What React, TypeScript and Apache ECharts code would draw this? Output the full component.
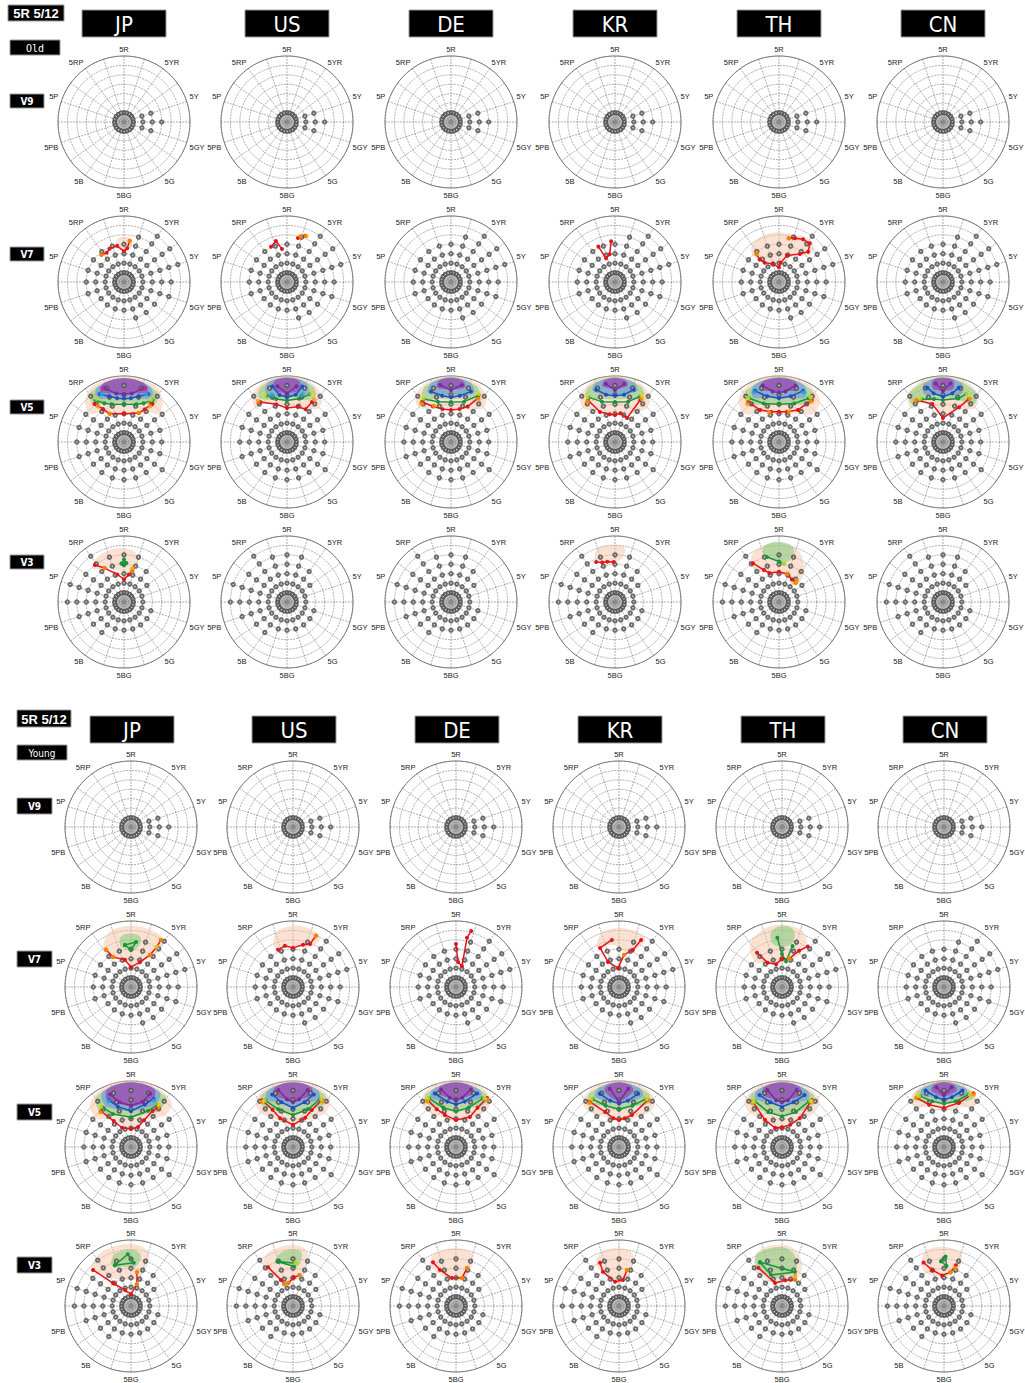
import React, { useEffect, useRef } from "react";
import * as echarts from "echarts";

// ---------- axis / labels ----------
const HUE_LABELS = ["5R", "5YR", "5Y", "5GY", "5G", "5BG", "5B", "5PB", "5P", "5RP"];
const COUNTRIES_OLD = ["JP", "US", "DE", "KR", "TH", "CN"];
const COUNTRIES_YOUNG = ["JP", "US", "DE", "KR", "TH", "CN"];
const VALUE_ROWS = ["V9", "V7", "V5", "V3"];
const TITLE = "5R 5/12";
const GROUPS = ["Old", "Young"];

// spoke hues (hue index, 5R = 0, 10 per Munsell hue family, clockwise)
const SPOKES = [0, 5, 10, 15, 20, 25, 30, 35, 40, 45, 50, 55, 60, 65, 70, 75, 80, 85, 90, 95];
// highest sample chroma on each spoke, per value level
const V9_MAX = [2, 2, 2, 2, 6, 8, 6, 2, 2, 2, 2, 2, 2, 2, 2, 2, 2, 2, 2, 2];
const V7_MAX = [8, 10, 12, 12, 12, 10, 10, 8, 8, 8, 6, 6, 6, 6, 8, 8, 8, 8, 8, 8];
const V5_MAX = [12, 12, 12, 10, 8, 8, 8, 10, 8, 8, 8, 8, 8, 8, 10, 10, 10, 10, 12, 12];
const V3_MAX = [10, 10, 8, 6, 4, 4, 6, 6, 6, 6, 6, 6, 8, 8, 10, 12, 12, 10, 12, 10];

// ---------- overlay data: [hue, chroma] ----------
const EMPTY = { blobs: [], lines: [], dots: [] };

const OLD_V7_JP = {
  blobs: [["peach", [[-3.5, 7.4], [-2.5, 9.2], [0, 9.6], [2.5, 9.2], [3.5, 7.6], [0, 6.9]]]],
  lines: [["red", [[-11, 7.5], [-8.5, 7.2], [-6.5, 7.7], [-3, 7.8], [0, 6.5], [1.5, 7.2], [2.2, 8.8]]]],
  dots: [["orange", [[-11, 7.5], [2.2, 8.8]]]],
};
const OLD_V7_US = {
  blobs: [],
  lines: [["red", [[-6.8, 8.2], [-4.2, 9], [-2.4, 7.1]]], ["red", [[3.9, 9.6], [5.9, 10.5]]]],
  dots: [["orange", [[4.6, 10.1], [6.3, 10.6]]]],
};
const OLD_V7_KR = {
  blobs: [],
  lines: [["red", [[-7, 8.3], [-5.7, 5.4], [-3, 6], [-1.5, 8.7]]]],
  dots: [],
};
const OLD_V7_TH = {
  blobs: [["peach", [[-12, 8.5], [-9, 10], [-4, 10.5], [0, 10.5], [4, 10.5], [8, 11], [11, 11], [13, 10], [13, 8], [10, 7.2], [5, 5.5], [0, 4], [-5, 4.5], [-11, 5.5]]]],
  lines: [["red", [[-10.8, 7.6], [-11.3, 6.3], [-10.2, 5.1], [-5.4, 4.1], [0, 3.1], [1.3, 4.1], [4.7, 5.9], [10.2, 7.4], [12.2, 8.9], [10.7, 10.5], [8.2, 10.4], [5.6, 9.9], [3.5, 9.5]]]],
  dots: [["orange", [[-10.8, 7.6], [3.5, 9.5]]]],
};

const OLD_V5_JP = {
  blobs: [
    ["peach", [[-14, 9.5], [-12, 12], [-8, 13.6], [0, 14], [8, 13.6], [12, 12], [14, 9.5], [11, 8.2], [7, 6.6], [0, 6], [-7, 6.6], [-11, 8.2]]],
    ["green", [[-11, 10.5], [-9, 12.8], [0, 13.6], [9, 12.8], [11, 10.5], [7, 9], [0, 8.5], [-7, 9]]],
    ["blue", [[-9, 11], [-7, 13], [0, 13.5], [7, 13], [9, 11], [5, 9.8], [0, 9.4], [-5, 9.8]]],
    ["purple", [[-7, 11.8], [-5, 13.2], [0, 13.5], [5, 13.2], [7, 11.8], [4, 10.6], [0, 10.2], [-4, 10.6]]],
  ],
  lines: [
    ["red", [[-10.5, 10.2], [-9, 8.3], [-7.5, 6.7], [0, 6], [7.5, 6.9], [9, 8.2], [10, 10.1]]],
    ["green", [[-9.5, 10.8], [-7.5, 9.2], [-5, 8.4], [0, 8], [5, 8.4], [7.5, 9.2], [9.5, 10.8]]],
    ["blue", [[-7.5, 11.4], [-5, 10.2], [-2.5, 9.4], [0, 9.2], [2.5, 9.4], [5, 10.2], [7.5, 11.4]]],
    ["purple", [[-5.5, 12.2], [-2.5, 10.4], [0, 10.2], [2.5, 10.4], [5.5, 12.2]]],
  ],
  dots: [
    ["orange", [[-10, 9.4], [-7.5, 6.7], [7.5, 6.9], [10, 9.4]]],
    ["yellow", [[-9, 10.9], [9, 10.7]]],
    ["cyan", [[-7, 11.2], [7, 11.2]]],
    ["magenta", [[-6, 12.3], [6, 12.3]]],
  ],
};
const OLD_V5_US = {
  blobs: [
    ["peach", [[-12, 9.5], [-10, 12.5], [-5, 13.8], [0, 14], [5, 13.8], [10, 12.5], [12, 9.8], [9, 8.5], [4, 7.8], [0, 7.4], [-4, 8.2], [-9, 9.5]]],
    ["green", [[-9, 11], [-7, 13], [0, 13.8], [7, 13], [9, 11], [5, 9.5], [0, 9], [-5, 9.5]]],
    ["blue", [[-6.5, 11.2], [-5, 13.2], [0, 13.7], [5, 13.2], [6.5, 11.2], [3, 9.9], [0, 9.7], [-3, 9.9]]],
    ["purple", [[-4, 11.5], [-3, 13.3], [0, 13.6], [3, 13.3], [4, 11.5], [1.5, 10.5], [0, 10.3], [-1.5, 10.5]]],
  ],
  lines: [
    ["red", [[-9.4, 10.2], [-4.4, 8.3], [0, 7.2], [4.6, 7.8], [8.2, 8], [8.9, 10]]],
    ["green", [[-6.6, 10.8], [-3.9, 9.4], [0, 8.8], [4.3, 9.5], [7.2, 11.3]]],
    ["blue", [[-4.1, 12.2], [-2.5, 10.1], [0, 9.5], [2.9, 10.2], [4.3, 12.2]]],
    ["purple", [[-2.7, 12], [0, 10.3], [2.7, 12]]],
  ],
  dots: [
    ["orange", [[-9.8, 10.6], [9.1, 10.7]]],
    ["yellow", [[-7, 11], [7.5, 11.5]]],
    ["cyan", [[-5, 10.5], [5, 10.6]]],
  ],
};
const OLD_V5_DE = {
  blobs: [
    ["peach", [[-12, 10], [-10, 12.6], [-5, 13.8], [0, 14], [5, 13.8], [10, 12.6], [12, 10], [9, 8.3], [0, 7], [-9, 8.5]]],
    ["green", [[-9, 11], [-7, 13], [0, 13.8], [7, 13], [9, 11], [4, 9.5], [0, 9], [-4, 9.5]]],
    ["blue", [[-7, 11.5], [-5, 13.2], [0, 13.7], [5, 13.2], [7, 11.5], [3, 10.2], [0, 10], [-3, 10.2]]],
    ["purple", [[-4, 12], [-3, 13.3], [0, 13.6], [3, 13.3], [4, 12], [0, 11.2]]],
  ],
  lines: [
    ["red", [[-10, 10.5], [-7.5, 8.5], [-4, 7.2], [0, 6.8], [4, 7.2], [7, 8.3], [8.8, 11]]],
    ["green", [[-9, 10.8], [-5, 9], [0, 8.5], [5, 9], [8.5, 11.5]]],
    ["blue", [[-6, 11.5], [-3, 10], [0, 9.5], [3, 10], [6, 11.5]]],
    ["purple", [[-3, 12.3], [0, 11], [3, 12.3]]],
  ],
  dots: [
    ["orange", [[-10.5, 10.3], [-7, 8.5], [9, 10.8]]],
    ["yellow", [[-9, 11], [8.3, 11.8]]],
  ],
};
const OLD_V5_KR = {
  blobs: [
    ["peach", [[-12, 10], [-10, 12.5], [-5, 13.8], [0, 14], [5, 13.8], [10, 12.5], [12, 10], [8.5, 7], [4, 6], [0, 5.5], [-4, 6], [-8.5, 7.5]]],
    ["green", [[-9, 11.2], [-7, 13], [0, 13.8], [7, 13], [9, 11.2], [4, 9.4], [0, 9], [-4, 9.4]]],
    ["blue", [[-6.5, 11.8], [-5, 13.2], [0, 13.7], [5, 13.2], [6.5, 11.8], [3, 10.4], [0, 10.2], [-3, 10.4]]],
    ["purple", [[-3.5, 12.2], [-2.5, 13.3], [0, 13.6], [2.5, 13.3], [3.5, 12.2], [0, 11.3]]],
  ],
  lines: [
    ["red", [[-9.1, 10.6], [-7.4, 7.1], [-3, 6], [0, 5.7], [3, 6.2], [7.4, 5.7], [8.6, 10.4]]],
    ["green", [[-8.5, 11], [-5, 9], [0, 8.5], [5, 9], [8, 11]]],
    ["blue", [[-5.5, 11.8], [-3, 10.2], [0, 9.8], [3, 10.2], [5.5, 11.8]]],
    ["purple", [[-2.5, 12.5], [0, 11], [2.5, 12.5]]],
  ],
  dots: [
    ["orange", [[-9.5, 10.4], [8.8, 10.8]]],
    ["yellow", [[-8.8, 11.2], [8.2, 11.4]]],
  ],
};
const OLD_V5_TH = {
  blobs: [
    ["peach", [[-14, 9.5], [-12, 12.6], [-6, 14], [0, 14.2], [6, 14], [12, 12.6], [14, 9.5], [10, 7.5], [0, 6], [-10, 7.5]]],
    ["green", [[-11, 10.5], [-9, 13], [0, 13.8], [9, 13], [11, 10.5], [6, 8.6], [0, 8.2], [-6, 8.6]]],
    ["blue", [[-8.5, 11], [-6.5, 13.2], [0, 13.7], [6.5, 13.2], [8.5, 11], [4, 9.8], [0, 9.5], [-4, 9.8]]],
    ["purple", [[-5.5, 11.8], [-4, 13.3], [0, 13.6], [4, 13.3], [5.5, 11.8], [2, 10.9], [0, 10.7], [-2, 10.9]]],
  ],
  lines: [
    ["red", [[-10.5, 10.7], [-8.5, 7.9], [-4, 6.6], [0, 6.4], [4, 6.6], [8.5, 7.9], [10.6, 11.3]]],
    ["green", [[-9.5, 11.2], [-6, 8.8], [0, 8], [6, 8.8], [9.5, 11.2]]],
    ["blue", [[-7, 12], [-4, 10], [0, 9.3], [4, 10], [7, 12]]],
    ["purple", [[-4.5, 12.5], [-2, 10.8], [0, 10.5], [2, 10.8], [4.5, 12.5]]],
  ],
  dots: [
    ["orange", [[-11, 10.5], [-5, 6.6], [5, 6.8], [10.8, 11]]],
    ["yellow", [[-9.8, 11.4], [9.8, 11.6]]],
    ["cyan", [[-7.4, 11.8], [7.4, 11.8]]],
  ],
};
const OLD_V5_CN = {
  blobs: [
    ["peach", [[-12, 9.8], [-10, 12.6], [-5, 13.8], [0, 14], [5, 13.8], [10, 12.6], [12, 9.8], [8, 8], [3, 6], [0, 5], [-3, 7], [-8, 9.5]]],
    ["green", [[-11, 10.5], [-9, 12.8], [0, 13.8], [9, 12.8], [11, 10.5], [6, 9.5], [0, 9.3], [-6, 9.5]]],
    ["blue", [[-6, 11], [-5, 13], [0, 13.7], [5, 13], [6, 11], [3, 10.2], [0, 10], [-3, 10.2]]],
    ["purple", [[-3, 11.5], [-2.5, 13.3], [0, 13.6], [2.5, 13.3], [3, 11.5], [1, 10.9], [0, 10.8], [-1, 10.9]]],
  ],
  lines: [
    ["red", [[-8.8, 10.4], [-4.4, 8.4], [0, 5.1], [6.9, 8.1], [8.6, 10.6]]],
    ["green", [[-7.5, 10.2], [-3.3, 9.3], [0, 8.9], [5.4, 9.8], [7.2, 11.3]]],
    ["blue", [[-4.5, 12], [-3, 10.5], [0, 9.6], [3, 10.5], [4.5, 12]]],
    ["purple", [[-2, 12.5], [0, 10.8], [2, 12.5]]],
  ],
  dots: [
    ["orange", [[-9.2, 10.6], [8.8, 10.8]]],
    ["yellow", [[-7.8, 10.4], [7.4, 11.4]]],
  ],
};

const OLD_V3_JP = {
  blobs: [["peach", [[-12, 9.5], [-9, 11], [-3, 11.5], [2, 11.2], [5, 9.8], [5, 7], [2, 6], [-3, 6.8], [-8, 8.5]]]],
  lines: [
    ["red", [[-10.6, 10], [-8.3, 8.3], [-3.7, 6], [0, 4.8], [2.8, 5.9], [4.1, 6.8]]],
    ["green", [[-1, 8.2], [0, 9], [1, 8.3], [0, 7.8], [-1, 8.2]]],
  ],
  dots: [["orange", [[-8.3, 8.3], [4.1, 6.8], [4, 7.4]]]],
};
const OLD_V3_KR = {
  blobs: [["peach", [[-7, 9.8], [-5, 12], [0, 12.2], [3, 11.5], [2, 9], [-3, 8.6]]]],
  lines: [["red", [[-7, 9.4], [-5, 8.8], [-3, 8.7], [-0.5, 8.5]]]],
  dots: [],
};
const OLD_V3_TH = {
  blobs: [
    ["peach", [[-10, 10.5], [-6, 12.2], [0, 12.5], [6, 11.5], [11, 8.5], [13, 5.6], [10, 4.5], [5, 5.6], [0, 6], [-6, 6.4], [-10, 8.5]]],
    ["green", [[-5, 10.5], [-4, 12.3], [0, 12.8], [4, 12], [4.5, 9.5], [1, 8.4], [-3, 9.5]]],
  ],
  lines: [
    ["red", [[-9.4, 9.9], [-7, 7.5], [-5.1, 6.5], [0, 6.4], [4.5, 6.2], [8.3, 5.5], [11.4, 5.4]]],
    ["green", [[-4.2, 9.9], [0, 8.6], [2, 8.2]]],
  ],
  dots: [["orange", [[4.5, 6.2], [11.4, 5.4], [11, 5.9]]], ["yellow", [[2, 8.2]]]],
};

const YOUNG_V7_JP = {
  blobs: [
    ["peach", [[-10, 10], [-6, 12.5], [0, 13], [6, 12.8], [10, 12], [10, 8], [5, 5.5], [0, 4.5], [-5, 6], [-9, 8]]],
    ["green", [[-4, 9], [-3, 11], [0, 11.3], [3, 10.8], [3, 8.8], [0, 7.8]]],
  ],
  lines: [
    ["red", [[-9.4, 9.5], [-8.6, 7.4], [-3.5, 5.9], [0, 4.2], [5.5, 5.6], [8.5, 7.9], [9.1, 10.1], [9, 11.8]]],
    ["green", [[-2.3, 9], [1.8, 9.6], [0, 7.9], [-2.3, 9]]],
  ],
  dots: [["orange", [[-9.4, 9.5], [-8.6, 7.4], [8.5, 7.9], [9, 11.8]]], ["yellow", [[9.1, 10.1]]]],
};
const YOUNG_V7_US = {
  blobs: [["peach", [[-7, 9], [-5, 12], [0, 13], [5, 12.8], [8, 12], [7, 9.5], [3, 8.8], [0, 8.3], [-4, 8.5]]]],
  lines: [["red", [[-6.1, 8.5], [-3.1, 8.9], [0, 8.3], [3.7, 9.2], [6, 9.8], [6.7, 11.9]]]],
  dots: [["orange", [[6.7, 11.9]]]],
};
const YOUNG_V7_DE = {
  blobs: [],
  lines: [["red", [[0, 9.1], [1.3, 5.3], [4.4, 4.6], [3.5, 10.7], [4.2, 12.3]]]],
  dots: [],
};
const YOUNG_V7_KR = {
  blobs: [["peach", [[-8, 9.5], [-5, 12], [0, 12.5], [5, 12.3], [8, 11.5], [7, 9], [3, 7.5], [-2, 9]]]],
  lines: [["red", [[-2.4, 10.1], [-7.2, 9.2], [-6.6, 5.8], [-0.8, 4], [2.5, 6.9], [5.7, 8.4], [7, 11]]]],
  dots: [["orange", [[2.5, 6.9]]]],
};
const YOUNG_V7_TH = {
  blobs: [
    ["peach", [[-13, 8], [-10, 11.5], [-4, 13], [0, 13.2], [5, 12.8], [8, 11], [8, 8], [4, 5.5], [0, 5], [-6, 5.5], [-11, 6.5]]],
    ["green", [[-3.5, 9.5], [-3, 12], [0, 13], [3, 12.5], [4, 10], [1, 8.5]]],
  ],
  lines: [
    ["red", [[-10, 9], [-8.5, 6], [-4, 5], [0, 6], [4, 6.2], [7, 8.5], [9, 10.2]]],
    ["green", [[-1.5, 10.5], [0, 7], [2.5, 5.5], [4, 9]]],
  ],
  dots: [["orange", [[4, 6.2]]]],
};

const YOUNG_V5_JP = {
  blobs: [
    ["peach", [[-14, 9.5], [-12, 12.7], [-6, 14], [0, 14.2], [6, 14], [12, 12.7], [13, 9.8], [9, 7], [4, 4.5], [0, 4], [-5, 4.8], [-10, 7.5]]],
    ["green", [[-11.5, 10], [-9.5, 13], [0, 13.8], [9.5, 13], [10.5, 10], [7, 7.8], [0, 6.3], [-7.5, 7.6]]],
    ["blue", [[-9, 10.5], [-7.5, 13.2], [0, 13.8], [7.5, 13.2], [8.5, 10.5], [5, 8.6], [0, 7.6], [-5, 8.4]]],
    ["purple", [[-7.5, 11.2], [-6, 13.3], [0, 13.7], [6, 13.3], [7, 11.2], [4, 9.4], [0, 8.6], [-4, 9.4]]],
  ],
  lines: [
    ["red", [[-11.1, 9.9], [-9.3, 6.6], [-6.9, 4.5], [0, 3.8], [5.4, 4.5], [7.2, 6.3], [8.6, 8.9], [9.4, 10.1]]],
    ["green", [[-10, 10.5], [-8, 8], [0, 6.3], [7, 8.5], [9, 10.6]]],
    ["blue", [[-7, 11], [-5, 9], [0, 7.6], [5, 9.5], [7, 11.3]]],
    ["purple", [[-6, 12], [-4, 9.8], [0, 8.8], [4, 9.9], [5.5, 12]]],
  ],
  dots: [
    ["orange", [[-11.5, 9.8], [9.6, 10.4]]],
    ["yellow", [[-10.2, 10.7], [9.2, 10.8]]],
    ["cyan", [[-7.3, 10.8], [7.3, 11]]],
  ],
};
const YOUNG_V5_US = {
  blobs: [
    ["peach", [[-12, 10], [-10.5, 12.8], [-5, 14], [0, 14.2], [5, 14], [10.5, 12.8], [12, 10], [8, 6.5], [0, 4.5], [-8, 6.5]]],
    ["green", [[-10, 11], [-8.5, 13], [0, 13.8], [8.5, 13], [10, 11], [6, 8.4], [0, 6.8], [-6, 8.4]]],
    ["blue", [[-8, 11.5], [-6.5, 13.2], [0, 13.8], [6.5, 13.2], [8, 11.5], [4, 9.6], [0, 8.3], [-4, 9.6]]],
    ["purple", [[-5.5, 11.8], [-4.5, 13.3], [0, 13.7], [4.5, 13.3], [5.5, 11.8], [2, 10], [0, 9.5], [-2, 10]]],
  ],
  lines: [
    ["red", [[-9.3, 11.9], [-8, 9], [-6.7, 6.7], [0, 4.7], [6.3, 6.7], [7.5, 8.8], [8.8, 11.7]]],
    ["green", [[-8.5, 11.5], [-6, 8.6], [0, 6.8], [6, 8.6], [8.2, 11.6]]],
    ["blue", [[-6, 12], [-4, 9.8], [0, 8.3], [4, 9.8], [6, 12]]],
    ["purple", [[-4, 12.5], [-2, 10.2], [0, 9.5], [2, 10.2], [4, 12.5]]],
  ],
  dots: [["orange", [[-9.5, 11.6], [9.2, 11.5]]], ["yellow", [[-8.8, 11.6], [8.5, 11.8]]]],
};
const YOUNG_V5_DE = {
  blobs: [
    ["peach", [[-11, 10.5], [-9.5, 12.8], [-5, 14], [0, 14.2], [5, 14], [9.5, 12.8], [11, 10.5], [8, 7], [0, 5.5], [-7, 7]]],
    ["green", [[-9.5, 11.2], [-8, 13], [0, 13.8], [8, 13], [9.5, 11.2], [5, 8.6], [0, 7.5], [-5, 8.6]]],
    ["blue", [[-7.5, 11.8], [-6, 13.2], [0, 13.8], [6, 13.2], [7.5, 11.8], [3, 9.6], [0, 9], [-3, 9.6]]],
    ["purple", [[-5, 12], [-4, 13.3], [0, 13.7], [4, 13.3], [5, 12], [2, 10.4], [0, 10], [-2, 10.4]]],
  ],
  lines: [
    ["red", [[-8.6, 11.6], [-7.5, 9], [-5.3, 7.2], [0, 5.7], [6.9, 7], [8, 9.5], [9, 12.3]]],
    ["green", [[-8, 11.8], [-5, 8.8], [0, 7.5], [5, 8.8], [8, 11.8]]],
    ["blue", [[-6, 12.2], [-3, 9.8], [0, 9], [3, 9.8], [6, 12.2]]],
    ["purple", [[-4, 12.6], [-2, 10.5], [0, 10], [2, 10.5], [4, 12.6]]],
  ],
  dots: [["orange", [[-9, 11.4], [9.3, 12]]], ["yellow", [[-8.3, 11.9], [8.4, 12]]]],
};
const YOUNG_V5_KR = {
  blobs: [
    ["peach", [[-11.5, 10.5], [-10, 12.8], [-5, 14], [0, 14.2], [5, 14], [10, 12.8], [11.5, 10.5], [8, 7], [0, 5.5], [-8, 7.5]]],
    ["green", [[-9.5, 11.2], [-8, 13], [0, 13.8], [8, 13], [9.5, 11.2], [5, 9], [0, 8], [-5, 9]]],
    ["blue", [[-7, 11.8], [-5.5, 13.2], [0, 13.8], [5.5, 13.2], [7, 11.8], [3, 9.8], [0, 9.2], [-3, 9.8]]],
    ["purple", [[-4, 12.2], [-3, 13.3], [0, 13.7], [3, 13.3], [4, 12.2], [0, 9.8]]],
  ],
  lines: [
    ["red", [[-9.1, 11.4], [-6, 8], [-3, 6.2], [0, 5.7], [3, 6.2], [6.1, 7.3], [8.8, 11.7]]],
    ["green", [[-8, 11.6], [-5, 9.2], [0, 8], [5, 9.2], [8, 11.6]]],
    ["blue", [[-5.5, 12], [-3, 10], [0, 9.2], [3, 10], [5.5, 12]]],
    ["purple", [[-2.5, 12.5], [0, 9.6], [2.5, 12.5]]],
  ],
  dots: [["orange", [[-9.4, 11.2], [9, 11.6]]], ["yellow", [[-8.3, 11.8], [8.2, 11.8]]]],
};
const YOUNG_V5_TH = {
  blobs: [
    ["peach", [[-12, 10.5], [-10.5, 12.8], [-5, 14], [0, 14.2], [5, 14], [10.5, 12.8], [12, 10.5], [9, 6.5], [5, 4.5], [0, 4], [-5, 4.2], [-9.5, 6.5]]],
    ["green", [[-10, 11], [-8.5, 13], [0, 13.8], [8.5, 13], [10, 11], [6, 7.8], [0, 6.5], [-6, 7.8]]],
    ["blue", [[-8, 11.6], [-6.5, 13.2], [0, 13.8], [6.5, 13.2], [8, 11.6], [4, 9.6], [0, 8.5], [-4, 9.6]]],
    ["purple", [[-5.5, 11.8], [-4.5, 13.3], [0, 13.7], [4.5, 13.3], [5.5, 11.8], [2, 10], [0, 9.5], [-2, 10]]],
  ],
  lines: [
    ["red", [[-9.1, 11.4], [-8.9, 6.8], [-5.6, 4.3], [0, 4.2], [5.6, 5], [8.8, 7.2], [9, 11.8]]],
    ["green", [[-8.5, 11.3], [-6, 8], [0, 6.5], [6, 8], [8.5, 11.3]]],
    ["blue", [[-6.5, 12], [-4, 9.8], [0, 8.5], [4, 9.8], [6.5, 12]]],
    ["purple", [[-4, 12.5], [-2, 10], [0, 9.5], [2, 10], [4, 12.5]]],
  ],
  dots: [["orange", [[-9.4, 11.2], [9.3, 11.6]]], ["yellow", [[-8.8, 11.4], [8.8, 11.5]]]],
};
const YOUNG_V5_CN = {
  blobs: [
    ["peach", [[-10, 11], [-8.5, 13], [-4, 14], [0, 14.2], [4, 14], [8.5, 13], [10, 11], [6, 9], [0, 7.8], [-6, 9]]],
    ["green", [[-8.5, 11.6], [-7, 13.2], [0, 13.9], [7, 13.2], [8.5, 11.8], [4, 9.7], [0, 9], [-4, 9.7]]],
    ["blue", [[-6.5, 12], [-5.5, 13.3], [0, 13.8], [5.5, 13.3], [6.5, 12], [2.5, 10.5], [0, 10], [-2.5, 10.5]]],
    ["purple", [[-3.5, 12.3], [-2.5, 13.4], [0, 13.7], [2.5, 13.4], [3.5, 12.3], [0, 10.8]]],
  ],
  lines: [
    ["red", [[-8, 11.9], [-5.4, 9.5], [0, 8.3], [5.2, 9.9], [8, 13]]],
    ["green", [[-7, 12], [-4, 10], [0, 9.2], [4, 10], [7, 12.3]]],
    ["blue", [[-5, 12.6], [-2.5, 10.7], [0, 10], [2.5, 10.7], [5, 12.6]]],
    ["purple", [[-2, 12.8], [0, 11], [2, 12.8]]],
  ],
  dots: [["orange", [[-8.3, 12], [8.2, 12.8]]], ["yellow", [[-7.3, 12.1], [7.3, 12.4]]]],
};

const YOUNG_V3_JP = {
  blobs: [
    ["peach", [[-13, 11.5], [-8, 13], [0, 13.2], [5, 12], [6, 9], [4, 6], [0, 5.5], [-6, 6], [-11, 8]]],
    ["green", [[-7, 9.5], [-5, 11.5], [0, 12], [3, 11], [2, 8.5], [-3, 8.5]]],
  ],
  lines: [
    ["red", [[-12.9, 11.1], [-10.6, 6.2], [-5.7, 3.6], [0, 2.5], [4.2, 4.8], [2.8, 7.3]]],
    ["green", [[-6, 9.3], [-1, 11], [1, 9.2], [-6, 9.3]]],
  ],
  dots: [["orange", [[2.8, 7.3], [4.2, 4.8]]]],
};
const YOUNG_V3_US = {
  blobs: [
    ["peach", [[-10, 10.5], [-7, 12.5], [0, 13], [4, 12], [5, 8.5], [3, 6], [-2, 5], [-7, 5.5]]],
    ["green", [[-6, 10], [-4, 11.5], [0, 12], [2.5, 11.5], [2, 8.5], [-3, 9]]],
  ],
  lines: [
    ["red", [[-9.1, 9.8], [-6.9, 6.1], [-6.1, 5], [-3.1, 5], [0.5, 6.1], [3.3, 6.7]]],
    ["green", [[-5.3, 10], [0.4, 8.4], [1, 9.1], [-5.3, 10]]],
  ],
  dots: [["orange", [[-6.1, 5], [-3.1, 5], [3.3, 6.7]]], ["yellow", [[1, 9.1]]]],
};
const YOUNG_V3_DE = {
  blobs: [["peach", [[-9, 10.5], [-6, 12], [0, 12.3], [5, 11.5], [6, 8], [3, 5.5], [-3, 5.5], [-8, 8]]]],
  lines: [["red", [[-7.7, 10.5], [-6.7, 8.4], [-2.3, 6], [3.4, 6.1], [4.5, 8.4]]]],
  dots: [["orange", [[3.4, 6.1], [4.5, 8.4]]]],
};
const YOUNG_V3_KR = {
  blobs: [["peach", [[-8, 10], [-5, 12], [0, 12.3], [4, 11.5], [5, 8], [2, 5], [-4, 5.5]]]],
  lines: [["red", [[-6.6, 10], [-7, 8], [-2.6, 5.2], [2.4, 5.6], [3.5, 7.8]]]],
  dots: [["orange", [[3.5, 7.8]]]],
};
const YOUNG_V3_TH = {
  blobs: [
    ["peach", [[-10, 10], [-6, 12.8], [2, 12.8], [7, 10], [8, 6.5], [2, 5], [-6, 5], [-9, 7.5]]],
    ["green", [[-9, 10], [-7, 12.3], [0, 12.5], [4, 11], [6, 8], [2, 6.5], [-5, 6.5]]],
  ],
  lines: [
    ["red", [[-8.8, 9.5], [-4.7, 5.1], [2, 5.5], [7.4, 6.2]]],
    ["green", [[-7.4, 10.4], [-5.4, 7], [5.8, 7.7], [-7.4, 10.4]]],
  ],
  dots: [["orange", [[7.4, 6.2], [6.5, 7]]]],
};
const YOUNG_V3_CN = {
  blobs: [["peach", [[-8, 10], [-5, 12.3], [0, 12.5], [5, 11.8], [6, 8.5], [2, 6.5], [-4, 6.5], [-8, 8]]]],
  lines: [
    ["red", [[-7, 10.2], [-5, 8], [-1, 6.5], [3, 7.3], [4.5, 9]]],
    ["green", [[-1, 9.5], [0.5, 10.5], [1, 8.5], [-1, 9.5]]],
  ],
  dots: [["orange", [[3, 7.3], [4.5, 8.4]]]],
};

const OLD_ROWS = [
  [EMPTY, EMPTY, EMPTY, EMPTY, EMPTY, EMPTY],
  [OLD_V7_JP, OLD_V7_US, EMPTY, OLD_V7_KR, OLD_V7_TH, EMPTY],
  [OLD_V5_JP, OLD_V5_US, OLD_V5_DE, OLD_V5_KR, OLD_V5_TH, OLD_V5_CN],
  [OLD_V3_JP, EMPTY, EMPTY, OLD_V3_KR, OLD_V3_TH, EMPTY],
];
const YOUNG_ROWS = [
  [EMPTY, EMPTY, EMPTY, EMPTY, EMPTY, EMPTY],
  [YOUNG_V7_JP, YOUNG_V7_US, YOUNG_V7_DE, YOUNG_V7_KR, YOUNG_V7_TH, EMPTY],
  [YOUNG_V5_JP, YOUNG_V5_US, YOUNG_V5_DE, YOUNG_V5_KR, YOUNG_V5_TH, YOUNG_V5_CN],
  [YOUNG_V3_JP, YOUNG_V3_US, YOUNG_V3_DE, YOUNG_V3_KR, YOUNG_V3_TH, YOUNG_V3_CN],
];

// ---------- style ----------
const LINE_COLORS: any = {
  red: "#e3151c",
  orange: "#f59b00",
  yellow: "#d6e11e",
  green: "#16963a",
  cyan: "#22a8e0",
  blue: "#1e4fc2",
  purple: "#7a2c9c",
  magenta: "#b8309b",
};
const BLOB_FILLS: any = {
  peach: "rgba(246,196,166,0.5)",
  green: "rgba(128,204,118,0.55)",
  blue: "rgba(104,150,232,0.6)",
  purple: "rgba(158,66,172,0.7)",
};

const R = 66;
const TOP_CX = [124, 287, 451, 615, 779, 943];
const TOP_CY = [122, 282, 442, 602];
const BOT_CX = [131, 293, 456, 619, 782, 944];
const BOT_CY = [827, 987, 1147, 1306];

const FONT = "'Liberation Sans Narrow', 'DejaVu Sans Condensed', 'Liberation Sans', sans-serif";
const GRID_STYLE = { color: "#7a7a7a", width: 0.6, type: [2, 1] };

function norm(h: number) {
  return ((h % 100) + 100) % 100;
}
function toPolar(pts: number[][]) {
  return pts.map(([h, c]) => [c, norm(h)]);
}
function samplePoints(maxArr: number[]) {
  const out: number[][] = [];
  SPOKES.forEach((h, i) => {
    for (let c = 2; c <= maxArr[i]; c += 2) out.push([c, h]);
  });
  return out;
}

function buildOption() {
  const polar: any[] = [];
  const angleAxis: any[] = [];
  const radiusAxis: any[] = [];
  const series: any[] = [];
  const maxes = [V9_MAX, V7_MAX, V5_MAX, V3_MAX];
  const groups = [
    { cx: TOP_CX, cy: TOP_CY, rows: OLD_ROWS },
    { cx: BOT_CX, cy: BOT_CY, rows: YOUNG_ROWS },
  ];
  groups.forEach((g) => {
    g.rows.forEach((row: any[], ri: number) => {
      row.forEach((chart: any, ci: number) => {
        const center = [g.cx[ci], g.cy[ri]];
        const pOuter = polar.length;
        polar.push({ center, radius: R });
        angleAxis.push({
          polarIndex: pOuter,
          type: "value",
          min: 0,
          max: 100,
          interval: 5,
          startAngle: 90,
          clockwise: true,
          axisLine: { lineStyle: { color: "#666", width: 0.8 } },
          axisTick: { show: false },
          splitLine: { show: true, lineStyle: GRID_STYLE },
          axisLabel: {
            margin: 3,
            fontSize: 7.5,
            color: "#222",
            fontFamily: "'Liberation Sans', sans-serif",
            formatter: (v: number) => {
              const i = Math.round(v);
              if (i % 10 !== 0 || i >= 100) return "";
              return HUE_LABELS[i / 10];
            },
          },
        });
        radiusAxis.push({
          polarIndex: pOuter,
          type: "value",
          min: 0,
          max: 14,
          interval: 2,
          axisLine: { show: false },
          axisTick: { show: false },
          axisLabel: { show: false },
          splitLine: { show: true, lineStyle: GRID_STYLE },
        });
        const pInner = polar.length;
        polar.push({ center, radius: (R * 2) / 14 });
        angleAxis.push({
          polarIndex: pInner,
          type: "value",
          min: 0,
          max: 100,
          interval: 2.5,
          startAngle: 90,
          clockwise: true,
          axisLine: { show: false },
          axisTick: { show: false },
          axisLabel: { show: false },
          splitLine: { show: true, lineStyle: { color: "#8a8a8a", width: 0.5 } },
        });
        radiusAxis.push({
          polarIndex: pInner,
          type: "value",
          min: 0,
          max: 2,
          interval: 0.5,
          axisLine: { show: false },
          axisTick: { show: false },
          axisLabel: { show: false },
          splitLine: { show: true, lineStyle: { color: "#8a8a8a", width: 0.5 } },
        });

        chart.blobs.forEach(([name, pts]: any) => {
          series.push({
            type: "custom",
            coordinateSystem: "polar",
            polarIndex: pOuter,
            silent: true,
            z: 1,
            data: [[0, 0]],
            renderItem: (params: any, api: any) => {
              if (params.dataIndex !== 0) return null;
              const points = toPolar(pts).map((p) => api.coord(p));
              return {
                type: "polygon",
                shape: { points, smooth: 0.35 },
                style: { fill: BLOB_FILLS[name], stroke: "none" },
              };
            },
          });
        });

        series.push({
          type: "scatter",
          coordinateSystem: "polar",
          polarIndex: pOuter,
          symbol: "emptyCircle",
          symbolSize: 3.4,
          silent: true,
          z: 3,
          itemStyle: { color: "#4a4a4a", borderWidth: 0.5 },
          data: samplePoints(maxes[ri]),
        });

        chart.lines.forEach(([name, pts]: any) => {
          series.push({
            type: "line",
            coordinateSystem: "polar",
            polarIndex: pOuter,
            silent: true,
            z: 4,
            symbol: "circle",
            symbolSize: 4,
            showAllSymbol: true,
            lineStyle: { color: LINE_COLORS[name], width: 1.5 },
            itemStyle: { color: LINE_COLORS[name] },
            data: toPolar(pts),
          });
        });
        chart.dots.forEach(([name, pts]: any) => {
          series.push({
            type: "scatter",
            coordinateSystem: "polar",
            polarIndex: pOuter,
            silent: true,
            z: 5,
            symbol: "circle",
            symbolSize: 4.6,
            itemStyle: { color: LINE_COLORS[name] },
            data: toPolar(pts),
          });
        });
      });
    });
  });

  const graphic: any[] = [];
  const box = (x: number, y: number, w: number, h: number, text: string, font: string) => {
    graphic.push({
      type: "rect",
      shape: { x, y, width: w, height: h },
      style: { fill: "#000", stroke: "#999", lineWidth: 1 },
      z: 10,
    });
    graphic.push({
      type: "text",
      x: x + w / 2,
      y: y + h / 2 + 0.5,
      z: 11,
      style: {
        text,
        fill: "#fff",
        font,
        align: "center",
        verticalAlign: "middle",
        textAlign: "center",
        textVerticalAlign: "middle",
      },
    });
  };
  // Old group
  box(8, 5, 56, 16, TITLE, "bold 13px 'Liberation Sans', sans-serif");
  box(10, 40, 50, 15, GROUPS[0], "10px 'DejaVu Sans Mono', monospace");
  const oldRowY = [94, 247, 400, 555];
  VALUE_ROWS.forEach((v, i) => box(10, oldRowY[i], 34, 14, v, "bold 10px " + FONT));
  COUNTRIES_OLD.forEach((c, i) => box(TOP_CX[i] - 42, 10, 84, 27, c, "22px " + FONT));
  // Young group
  box(17, 710, 54, 17, TITLE, "bold 13px 'Liberation Sans', sans-serif");
  box(17, 745, 50, 15, GROUPS[1], "10px " + FONT);
  const youngRowY = [798, 951, 1104, 1257];
  VALUE_ROWS.forEach((v, i) => box(17, youngRowY[i], 35, 16, v, "bold 10px " + FONT));
  COUNTRIES_YOUNG.forEach((c, i) => box(BOT_CX[i] - 41, 716, 84, 27, c, "22px " + FONT));

  return {
    animation: false,
    backgroundColor: "#fff",
    polar,
    angleAxis,
    radiusAxis,
    series,
    graphic,
  };
}

export default function App() {
  const ref = useRef<HTMLDivElement>(null);
  useEffect(() => {
    if (!ref.current) return;
    const chart = echarts.init(ref.current, null, { renderer: "svg" });
    chart.setOption(buildOption() as any);
    return () => chart.dispose();
  }, []);
  return (
    <div
      ref={ref}
      style={{ position: "absolute", left: 0, top: 0, width: 1025, height: 1383, background: "#fff" }}
    />
  );
}
